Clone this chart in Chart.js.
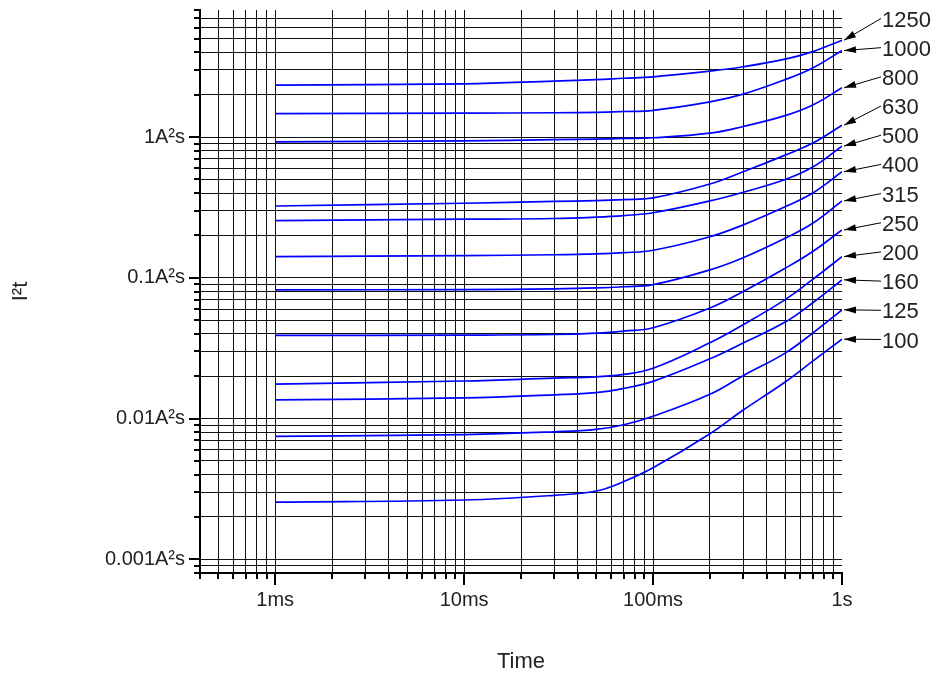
<!DOCTYPE html>
<html>
<head>
<meta charset="utf-8">
<script src="https://cdn.jsdelivr.net/npm/chart.js@4.4.1/dist/chart.umd.min.js"></script>
<style>
  html, body { margin: 0; padding: 0; background: #fff; }
  #wrap { width: 933px; height: 677px; }
</style>
</head>
<body>
<div id="wrap"><canvas id="i2tChart" width="933" height="677"></canvas></div>
<script>
const times = [0.001, 0.01, 0.03, 0.05, 0.07, 0.1, 0.2, 0.3, 0.5, 0.7, 1];

// rated currents, top curve first
const ratings = ['1250', '1000', '800', '630', '500', '400', '315', '250', '200', '160', '125', '100'];

// I2t values in A2s, one array per rating
const i2t1250 = [2.34, 2.39, 2.5, 2.56, 2.62, 2.68, 2.94, 3.16, 3.58, 4.05, 4.88];
const i2t1000 = [1.47, 1.48, 1.49, 1.5, 1.52, 1.55, 1.78, 2.02, 2.56, 3.1, 4.12];
const i2t800 = [0.926, 0.941, 0.96, 0.968, 0.978, 0.99, 1.067, 1.19, 1.42, 1.69, 2.24];
const i2t630 = [0.324, 0.339, 0.349, 0.354, 0.36, 0.37, 0.464, 0.567, 0.745, 0.907, 1.216];
const i2t500 = [0.255, 0.261, 0.264, 0.27, 0.277, 0.29, 0.352, 0.406, 0.5, 0.613, 0.863];
const i2t400 = [0.1416, 0.1439, 0.146, 0.148, 0.151, 0.157, 0.196, 0.238, 0.32, 0.401, 0.567];
const i2t315 = [0.0822, 0.0826, 0.0836, 0.0848, 0.0865, 0.0895, 0.114, 0.139, 0.191, 0.244, 0.352];
const i2t250 = [0.039, 0.0392, 0.0396, 0.0405, 0.0419, 0.0442, 0.061, 0.08, 0.117, 0.154, 0.219];
const i2t200 = [0.0176, 0.0185, 0.0194, 0.0198, 0.0206, 0.0228, 0.0346, 0.0465, 0.07, 0.0975, 0.1416];
const i2t160 = [0.01357, 0.01402, 0.01475, 0.0153, 0.0164, 0.0184, 0.0266, 0.0345, 0.0485, 0.0665, 0.0968];
const i2t125 = [0.00749, 0.0077, 0.00806, 0.00838, 0.00905, 0.0104, 0.0149, 0.0202, 0.0292, 0.0405, 0.0593];
const i2t100 = [0.00255, 0.00264, 0.00285, 0.00306, 0.00357, 0.00447, 0.0078, 0.0115, 0.0182, 0.0256, 0.0367];

const curves = [i2t1250, i2t1000, i2t800, i2t630, i2t500, i2t400, i2t315, i2t250, i2t200, i2t160, i2t125, i2t100];

// axes
const xMin = 0.0004, xMax = 1;
const yMin = 0.0008, yMax = 8;
const xMajor = [0.001, 0.01, 0.1, 1];
const xMajorLabels = ['1ms', '10ms', '100ms', '1s'];
const yMajor = [0.001, 0.01, 0.1, 1];
const yMajorLabels = ['0.001A²s', '0.01A²s', '0.1A²s', '1A²s'];

const FONT = "'Liberation Sans', Arial, sans-serif";

function logTicks(min, max) {
    const out = [];
    for (let e = Math.floor(Math.log10(min)); e <= Math.ceil(Math.log10(max)); e++) {
        for (let m = 1; m <= 9; m++) {
            const v = parseFloat((m * Math.pow(10, e)).toPrecision(6));
            if (v >= min * 0.9999 && v <= max * 1.0001) out.push(v);
        }
    }
    return out;
}

function majorIndex(list, v) {
    return list.findIndex(m => Math.abs(Math.log10(m) - Math.log10(v)) < 1e-6);
}

function atEdge(v, min, max) {
    return Math.abs(Math.log10(v) - Math.log10(min)) < 1e-6 || Math.abs(Math.log10(v) - Math.log10(max)) < 1e-6;
}

const xTickValues = logTicks(xMin, xMax);
const yTickValues = logTicks(yMin, yMax);

// outward tick marks, long on decades
const tickMarks = {
    id: 'tickMarks',
    afterDraw(chart) {
        const { ctx, chartArea, scales } = chart;
        ctx.save();
        ctx.strokeStyle = '#000';
        ctx.lineWidth = 2;
        scales.x.ticks.forEach(t => {
            const px = Math.round(scales.x.getPixelForValue(t.value));
            const len = majorIndex(xMajor, t.value) >= 0 ? 12 : 6;
            ctx.beginPath();
            ctx.moveTo(px, chartArea.bottom);
            ctx.lineTo(px, chartArea.bottom + len);
            ctx.stroke();
        });
        scales.y.ticks.forEach(t => {
            const py = Math.round(scales.y.getPixelForValue(t.value));
            const len = majorIndex(yMajor, t.value) >= 0 ? 11 : 6;
            ctx.beginPath();
            ctx.moveTo(chartArea.left, py);
            ctx.lineTo(chartArea.left - len, py);
            ctx.stroke();
        });
        ctx.restore();
    }
};

// rating labels on the right with arrows to the curve ends
const ratingLabels = {
    id: 'ratingLabels',
    afterDraw(chart) {
        const { ctx, scales } = chart;
        const labelX = 882;
        const firstY = 19.5;
        const step = 29.18;
        ctx.save();
        ctx.font = '22px ' + FONT;
        ctx.strokeStyle = '#000';
        ctx.lineWidth = 1;
        ctx.textAlign = 'left';
        ctx.textBaseline = 'middle';
        chart.data.datasets.forEach((ds, k) => {
            const last = ds.data[ds.data.length - 1];
            const ex = scales.x.getPixelForValue(last.x) + 2;
            const ey = scales.y.getPixelForValue(last.y);
            const ly = firstY + k * step;
            const sx = labelX - 1, sy = ly - 1;
            ctx.fillStyle = '#222';
            ctx.fillText(ds.label, labelX, ly + 1);
            ctx.beginPath();
            ctx.moveTo(sx, sy);
            ctx.lineTo(ex, ey);
            ctx.stroke();
            const ang = Math.atan2(sy - ey, sx - ex);
            const hl = 12, hw = 3.5;
            const bx = ex + Math.cos(ang) * hl, by = ey + Math.sin(ang) * hl;
            ctx.beginPath();
            ctx.moveTo(ex, ey);
            ctx.lineTo(bx - Math.sin(ang) * hw, by + Math.cos(ang) * hw);
            ctx.lineTo(bx + Math.sin(ang) * hw, by - Math.cos(ang) * hw);
            ctx.closePath();
            ctx.fillStyle = '#000';
            ctx.fill();
        });
        ctx.restore();
    }
};

const datasets = curves.map((vals, k) => ({
    label: ratings[k],
    data: times.map((t, j) => ({ x: t, y: vals[j] })),
    borderColor: '#0000ff',
    borderWidth: 1.7,
    pointRadius: 0,
    fill: false,
    tension: 0.4
}));

new Chart(document.getElementById('i2tChart'), {
    type: 'line',
    data: { datasets },
    plugins: [tickMarks, ratingLabels],
    options: {
        responsive: false,
        animation: false,
        devicePixelRatio: 1,
        layout: { padding: { top: 10, right: 91, bottom: 0, left: 0 } },
        plugins: {
            legend: { display: false },
            tooltip: { enabled: false }
        },
        scales: {
            x: {
                type: 'logarithmic',
                min: xMin,
                max: xMax,
                afterBuildTicks: s => { s.ticks = xTickValues.map(v => ({ value: v })); },
                afterFit: s => { s.height = 104; s.paddingLeft = 0; s.paddingRight = 0; },
                ticks: {
                    autoSkip: false,
                    maxRotation: 0,
                    padding: 15,
                    color: '#222',
                    font: { family: FONT, size: 20 },
                    callback: v => {
                        const i = majorIndex(xMajor, v);
                        return i >= 0 ? xMajorLabels[i] : '';
                    }
                },
                grid: {
                    drawTicks: false,
                    lineWidth: 1,
                    color: c => atEdge(c.tick.value, xMin, xMax) ? 'rgba(0,0,0,0)' : '#111'
                },
                border: { display: true, color: '#000', width: 2 },
                title: {
                    display: true,
                    text: 'Time',
                    color: '#222',
                    font: { family: FONT, size: 22 },
                    padding: { top: 0, bottom: 2 }
                }
            },
            y: {
                type: 'logarithmic',
                min: yMin,
                max: yMax,
                afterBuildTicks: s => { s.ticks = yTickValues.map(v => ({ value: v })); },
                afterFit: s => { s.width = 200; s.paddingTop = 0; s.paddingBottom = 0; },
                ticks: {
                    autoSkip: false,
                    padding: 15,
                    color: '#222',
                    font: { family: FONT, size: 20 },
                    callback: v => {
                        const i = majorIndex(yMajor, v);
                        return i >= 0 ? yMajorLabels[i] : '';
                    }
                },
                grid: {
                    drawTicks: false,
                    lineWidth: 1,
                    color: c => atEdge(c.tick.value, yMin, yMax) ? 'rgba(0,0,0,0)' : '#111'
                },
                border: { display: true, color: '#000', width: 2 },
                title: {
                    display: true,
                    text: 'I²t',
                    color: '#222',
                    font: { family: FONT, size: 22 },
                    padding: { top: 8, bottom: 0 }
                }
            }
        }
    }
});
</script>
</body>
</html>
